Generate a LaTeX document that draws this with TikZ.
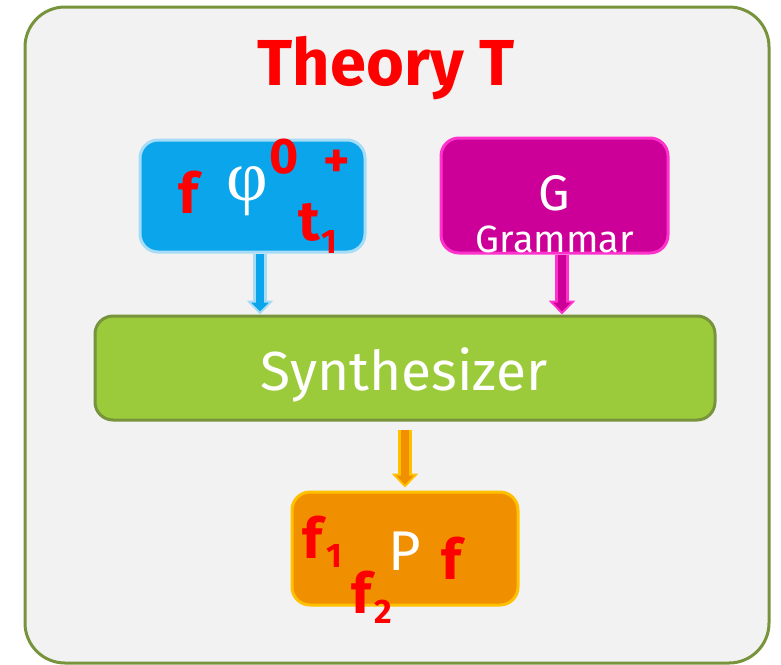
\documentclass[tikz,border=0pt]{standalone}
\usepackage{fontspec}
\setmainfont{Fira Sans}
\newfontfamily\phifont{Liberation Serif}
\usetikzlibrary{arrows.meta}
\definecolor{outerfill}{HTML}{F2F2F2}
\definecolor{olive}{HTML}{77933C}
\definecolor{bluefill}{HTML}{0BA5EC}
\definecolor{blueline}{HTML}{A6DCF5}
\definecolor{magfill}{HTML}{CC0099}
\definecolor{magline}{HTML}{FF33CC}
\definecolor{greenfill}{HTML}{9BCB3B}
\definecolor{orfill}{HTML}{F09000}
\definecolor{orline}{HTML}{FFC000}
\definecolor{redtxt}{HTML}{FF0000}
\tikzset{
  box/.style={draw, line width=3pt, rounded corners=18pt, inner sep=0pt},
  lbl/.style={inner sep=0pt, anchor=base},
  redsym/.style={lbl, text=redtxt, font=\bfseries\fontsize{56}{60}\selectfont},
  redsub/.style={lbl, text=redtxt, font=\bfseries\fontsize{34}{38}\selectfont},
  whitetxt/.style={lbl, text=white},
  arrowout/.style={line width=14pt, -{Triangle[width=26pt,length=14pt]}},
  arrowin/.style={line width=8pt, shorten >=3pt, -{Triangle[width=17pt,length=9pt]}}
}
\begin{document}
\begin{tikzpicture}[x=1pt,y=-1pt]
\useasboundingbox (0,0) rectangle (781,664);
% outer frame
\node[draw=olive, fill=outerfill, line width=3pt, rounded corners=40pt, inner sep=0pt,
      minimum width=744pt, minimum height=656pt] (outer) at (397,335) {};
\node[lbl, text=redtxt, font=\bfseries\fontsize{65}{69}\selectfont] (title) at (386,85) {Theory T};
% boxes
\node[box, draw=blueline, fill=bluefill, minimum width=225pt, minimum height=112pt] (blue) at (252.5,196) {};
\node[box, draw=magline, fill=magfill, minimum width=227pt, minimum height=115pt] (mag) at (554.5,195.5) {};
\node[box, draw=olive, fill=greenfill, minimum width=620pt, minimum height=104pt] (syn) at (405,368) {};
\node[box, draw=orline, fill=orfill, minimum width=226pt, minimum height=113pt] (prog) at (405,548.5) {};
% arrows
\draw[arrowout, blueline] ([xshift=7.5pt]blue.south) -- ([xshift=7.5pt]blue.south |- syn.north);
\draw[arrowin, bluefill] ([xshift=7.5pt]blue.south) -- ([xshift=7.5pt]blue.south |- syn.north);
\draw[arrowout, magline] ([xshift=7.5pt]mag.south) -- ([xshift=7.5pt]mag.south |- syn.north);
\draw[arrowin, magfill] ([xshift=7.5pt]mag.south) -- ([xshift=7.5pt]mag.south |- syn.north);
\draw[arrowout, orline] ([yshift=-8pt]syn.south) -- ([yshift=3pt]prog.north);
\draw[arrowin, orfill] ([yshift=-8pt]syn.south) -- ([yshift=3pt]prog.north);
% blue box contents
\node[redsym] (bf) at (188,213) {f};
\node[whitetxt, font=\phifont\fontsize{72}{76}\selectfont] (phi) at (247,200) {φ};
\node[redsym, font=\bfseries\fontsize{50}{54}\selectfont] (zero) at (284,173) {0};
\node[redsym, font=\bfseries\fontsize{50}{54}\selectfont, anchor=center] (plus) at (337,164) {+};
\node[redsym] (bt) at (309,240) {t};
\node[redsub] (bt1) at (329,253) {1};
% magenta box contents
\node[whitetxt, font=\fontsize{50}{54}\selectfont] (gg) at (554,210) {G};
\node[whitetxt, font=\fontsize{38}{42}\selectfont] (gram) at (555,252) {Grammar};
% synthesizer
\node[whitetxt, font=\fontsize{55}{60}\selectfont] (syntxt) at (404,390) {Synthesizer};
% program box contents
\node[redsym] (pf1) at (312,558) {f};
\node[redsub] (pf1s) at (334,567) {1};
\node[whitetxt, font=\fontsize{56}{60}\selectfont] (pp) at (405,570) {P};
\node[redsym] (pf) at (451,579) {f};
\node[redsym] (pf2) at (361,613) {f};
\node[redsub] (pf2s) at (383,623) {2};
\end{tikzpicture}
\end{document}
